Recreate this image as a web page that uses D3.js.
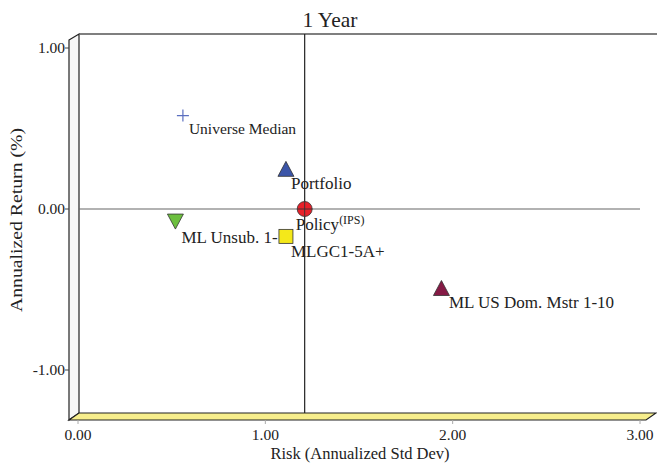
<!DOCTYPE html>
<html><head><meta charset="utf-8">
<script src="https://cdn.jsdelivr.net/npm/d3@7"></script>
</head><body style="margin:0"><svg id="c" width="657" height="466"></svg>
<script>
const names = ["Universe Median","Portfolio","Policy","ML Unsub. 1-","MLGC1-5A+","ML US Dom. Mstr 1-10"];
const risk  = [0.56, 1.11, 1.21, 0.52, 1.11, 1.94];
const ret   = [0.58, 0.24, 0.00, -0.075, -0.17, -0.50];
const shapes = ["plus","up","circle","down","square","up"];
const colors = ["#5b6fc0","#3b55a8","#e8202a","#6cbf3e","#f4e81a","#851a45"];
const xTicks = [0, 1, 2, 3];
const yTicks = [-1, 0, 1];

const svg = d3.select("#c");
function txt(){ return svg.append("text").style("font-family",'"Times New Roman", "Liberation Serif", Tinos, serif').attr("fill","#222"); }
const x = d3.scaleLinear().domain([0,3]).range([78,640]);
const y = d3.scaleLinear().domain([-1,1]).range([370,48]);
const d = 10, dy = 7;
const L = 69, B = 420, R = 646, T = 40;

svg.append("polygon").attr("points",`${L},${T} ${L+d},${T-6} ${L+d},${B-dy} ${L},${B}`).attr("fill","#f7f7f7").attr("stroke","#222").attr("stroke-width",1.2);
svg.append("polygon").attr("points",`${L},${B} ${L+d},${B-dy} ${R+d},${B-dy} ${R},${B}`).attr("fill","#f7ee8c").attr("stroke","#222").attr("stroke-width",1.2);
svg.append("line").attr("x1",L+d).attr("x2",657).attr("y1",T-6).attr("y2",T-6).attr("stroke","#555").attr("stroke-width",1.5);

yTicks.forEach(t=>{
  svg.append("line").attr("x1",L-4).attr("x2",L).attr("y1",y(t)).attr("y2",y(t)).attr("stroke","#444");
  txt().attr("x",L-4).attr("y",y(t)+5).attr("text-anchor","end").attr("font-size",15.5).text(t.toFixed(2));
});
xTicks.forEach(t=>{
  svg.append("line").attr("x1",x(t)).attr("x2",x(t)).attr("y1",B).attr("y2",B+4).attr("stroke","#aaa");
  txt().attr("x",x(t)).attr("y",B+20).attr("text-anchor","middle").attr("font-size",15.5).text(t.toFixed(2));
});

svg.append("line").attr("x1",L+d).attr("x2",640).attr("y1",y(0)).attr("y2",y(0)).attr("stroke","#666").attr("stroke-width",1.2);
svg.append("line").attr("x1",x(risk[2])).attr("x2",x(risk[2])).attr("y1",T-6).attr("y2",B-dy).attr("stroke","#222").attr("stroke-width",1.2);

txt().attr("x",330).attr("y",27).attr("text-anchor","middle").attr("font-size",21.5).text("1 Year");
txt().attr("x",360).attr("y",459).attr("text-anchor","middle").attr("font-size",16.5).text("Risk (Annualized Std Dev)");
txt().attr("transform","translate(22,220) rotate(-90)").attr("text-anchor","middle").attr("font-size",16.5)
  .attr("textLength",184).attr("lengthAdjust","spacingAndGlyphs").text("Annualized Return (%)");

const g = svg.append("g");
names.forEach((n,i)=>{
  const px = x(risk[i]), py = y(ret[i]);
  const s = shapes[i];
  if (s==="plus") {
    g.append("path").attr("d",`M${px-6},${py}H${px+6}M${px},${py-6}V${py+6}`).attr("stroke",colors[i]).attr("stroke-width",1.2);
  } else if (s==="up") {
    g.append("path").attr("d",`M${px},${py-9}L${px+8},${py+6}L${px-8},${py+6}Z`).attr("fill",colors[i]).attr("stroke","#333").attr("stroke-width",0.8);
  } else if (s==="down") {
    g.append("path").attr("d",`M${px-8},${py-7}L${px+8},${py-7}L${px},${py+8}Z`).attr("fill",colors[i]).attr("stroke","#333").attr("stroke-width",0.8);
  } else if (s==="square") {
    g.append("rect").attr("x",px-7).attr("y",py-7).attr("width",14).attr("height",14).attr("fill",colors[i]).attr("stroke","#333").attr("stroke-width",0.8);
  } else if (s==="circle") {
    g.append("circle").attr("cx",px).attr("cy",py).attr("r",7.5).attr("fill",colors[i]).attr("stroke","#333").attr("stroke-width",0.8);
    g.append("path").attr("d",`M${px-7.5},${py}H${px+7.5}M${px},${py-7.5}V${py+7.5}`).attr("stroke","#333").attr("stroke-width",0.9);
  }
});

const lab = [
  {dx:6, dy:18.5, fs:15.5},
  {dx:5, dy:18.5, fs:17},
  {dx:-9, dy:21, fs:17},
  {dx:6, dy:22, fs:17},
  {dx:5, dy:20.5, fs:17},
  {dx:7.5, dy:18.5, fs:17}
];
names.forEach((n,i)=>{
  const t = txt().attr("x",x(risk[i])+lab[i].dx).attr("y",y(ret[i])+lab[i].dy).attr("font-size",lab[i].fs).text(n);
  if (n==="Policy") t.append("tspan").attr("font-size",12).attr("dy",-6).text("(IPS)");
});
</script></body></html>
